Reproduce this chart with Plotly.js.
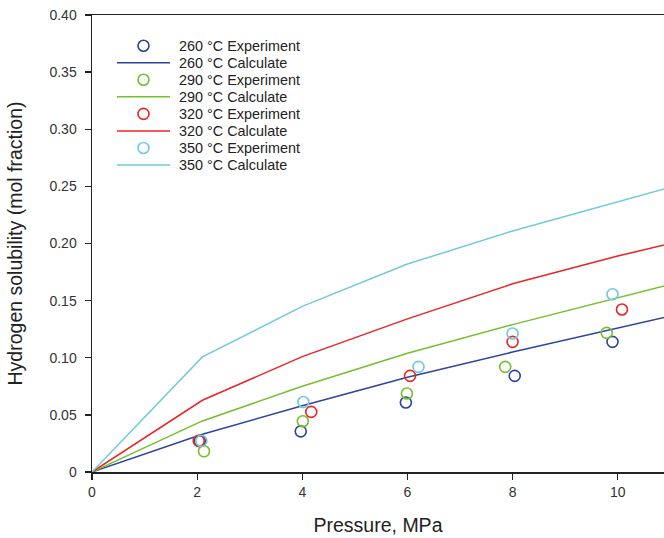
<!DOCTYPE html>
<html>
<head>
<meta charset="utf-8">
<script src="https://cdn.plot.ly/plotly-3.0.1.min.js"></script>
<style>html,body{margin:0;padding:0;background:#fff;}#chart{width:664px;height:538px;}</style>
</head>
<body>
<div id="chart"></div>
<script>
// Calculated curves
const pressureCalc = [0, 2.1, 4, 6, 8, 10, 12];
const calc260 = [0, 0.033, 0.058, 0.083, 0.105, 0.126, 0.147];
const calc290 = [0, 0.0447, 0.075, 0.104, 0.129, 0.153, 0.176];
const calc320 = [0, 0.0628, 0.101, 0.134, 0.1647, 0.189, 0.211];
const calc350 = [0, 0.1007, 0.145, 0.182, 0.211, 0.237, 0.262];

// Experimental points
const exp260P = [2.05, 3.97, 5.97, 8.04, 9.9];
const exp260 = [0.027, 0.0356, 0.0608, 0.0841, 0.1139];
const exp290P = [2.13, 4.01, 5.99, 7.86, 9.79];
const exp290 = [0.0181, 0.0444, 0.0687, 0.092, 0.1218];
const exp320P = [2.03, 4.17, 6.05, 8.0, 10.08];
const exp320 = [0.0272, 0.0526, 0.0841, 0.1139, 0.1422];
const exp350P = [2.08, 4.02, 6.21, 8.0, 9.9];
const exp350 = [0.0272, 0.0613, 0.092, 0.1212, 0.1556];

const temps = ["260", "290", "320", "350"];
const colors = ["#2b459e", "#74bf2f", "#ec2424", "#6fcadc"];

const xTickVals = [0, 2, 4, 6, 8, 10];
const xTickText = ["0", "2", "4", "6", "8", "10"];
const yTickVals = [0, 0.05, 0.10, 0.15, 0.20, 0.25, 0.30, 0.35, 0.40];
const yTickText = ["0", "0.05", "0.10", "0.15", "0.20", "0.25", "0.30", "0.35", "0.40"];

const expX = [exp260P, exp290P, exp320P, exp350P];
const expY = [exp260, exp290, exp320, exp350];
const calcY = [calc260, calc290, calc320, calc350];

const font = "Arial, 'Liberation Sans', sans-serif";

// plot area in px (for placing the legend block)
const W = 664, H = 538, mL = 92, mR = 0, mT = 15, mB = 66;
const pw = W - mL - mR, ph = H - mT - mB;
const px2x = p => (p - mL) / pw;
const py2y = p => (H - mB - p) / ph;

const traces = [];
const annotations = [];
const shapes = [];
const legRow0 = 45.7, legStep = 17.05;
for (let i = 0; i < temps.length; i++) {
  traces.push({
    x: expX[i], y: expY[i], type: 'scatter', mode: 'markers',
    name: temps[i] + ' °C Experiment', showlegend: false,
    marker: {symbol: 'circle-open', size: 11, color: colors[i], line: {width: 1.6, color: colors[i]}},
    cliponaxis: false
  });
  traces.push({
    x: pressureCalc, y: calcY[i], type: 'scatter', mode: 'lines',
    name: temps[i] + ' °C Calculate', showlegend: false,
    line: {color: colors[i], width: 1.5}
  });
  // legend block
  const yExp = py2y(legRow0 + legStep * (2 * i));
  const yCal = py2y(legRow0 + legStep * (2 * i + 1));
  shapes.push({
    type: 'circle', xref: 'paper', yref: 'paper',
    xsizemode: 'pixel', ysizemode: 'pixel',
    xanchor: px2x(143.5), yanchor: yExp,
    x0: -5.5, x1: 5.5, y0: -5.5, y1: 5.5,
    line: {color: colors[i], width: 1.6}
  });
  shapes.push({
    type: 'line', xref: 'paper', yref: 'paper',
    x0: px2x(117), x1: px2x(170), y0: yCal, y1: yCal,
    line: {color: colors[i], width: 1.5}
  });
  annotations.push({
    xref: 'paper', yref: 'paper', x: px2x(177), y: yExp,
    xanchor: 'left', yanchor: 'middle', showarrow: false,
    text: temps[i] + ' °C Experiment',
    font: {family: font, size: 14.4, color: '#222'}
  });
  annotations.push({
    xref: 'paper', yref: 'paper', x: px2x(177), y: yCal,
    xanchor: 'left', yanchor: 'middle', showarrow: false,
    text: temps[i] + ' °C Calculate',
    font: {family: font, size: 14.4, color: '#222'}
  });
}

const layout = {
  width: W, height: H,
  margin: {l: mL, r: mR, t: mT, b: mB},
  paper_bgcolor: '#fff', plot_bgcolor: '#fff',
  font: {family: font, size: 14, color: '#333'},
  showlegend: false,
  annotations: annotations,
  shapes: shapes,
  xaxis: {
    range: [0, 10.88], tickvals: xTickVals, ticktext: xTickText,
    ticks: 'outside', ticklen: 6, tickwidth: 1.3, tickcolor: '#222',
    showline: true, linecolor: '#222', linewidth: 1.5, mirror: true,
    showgrid: false, zeroline: false, ticklabelstandoff: 1,
    tickfont: {family: font, size: 14, color: '#333'},
    title: {text: 'Pressure, MPa', font: {family: font, size: 19.5, color: '#222'}, standoff: 19}
  },
  yaxis: {
    range: [0, 0.40], tickvals: yTickVals, ticktext: yTickText,
    ticks: 'outside', ticklen: 6, tickwidth: 1.3, tickcolor: '#222',
    showline: true, linecolor: '#222', linewidth: 1.5, mirror: false,
    showgrid: false, zeroline: false, ticklabelstandoff: 5,
    tickfont: {family: font, size: 14, color: '#333'},
    title: {text: 'Hydrogen solubility (mol fraction)', font: {family: font, size: 19.5, color: '#222'}, standoff: 21}
  }
};

Plotly.newPlot('chart', traces, layout, {displayModeBar: false, staticPlot: true});
</script>
</body>
</html>
